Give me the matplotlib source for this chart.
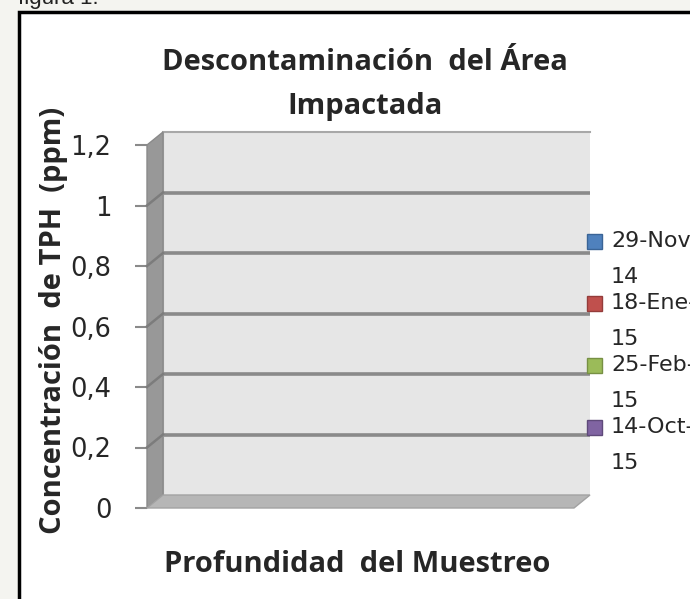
import matplotlib.pyplot as plt
from matplotlib.patches import Polygon, Rectangle
from matplotlib.lines import Line2D

# chart content
title = "Descontaminación  del Área\nImpactada"
x_title = "Profundidad  del Muestreo"
y_title = "Concentración  de TPH  (ppm)"
series = ["29-Nov-\n14", "18-Ene-\n15", "25-Feb-\n15", "14-Oct-\n15"]
colors = ["#4f81bd", "#c0504d", "#9bbb59", "#8064a2"]
edges = ["#3a6496", "#943c3a", "#779044", "#5f4a7a"]
y_ticks = [0, 0.2, 0.4, 0.6, 0.8, 1.0, 1.2]
y_labels = ["0", "0,2", "0,4", "0,6", "0,8", "1", "1,2"]

W, H = 690, 599
fig = plt.figure(figsize=(W / 100, H / 100), dpi=100, facecolor="#f4f4f0")
to_fig = fig.transFigure.inverted()

def fx(px):
    return px / W

def fy(py):
    return 1 - py / H

# white chart area with black frame (cut off at right/bottom)
fig.patches.append(Rectangle((fx(19), fy(640)), 1.2, (640 - 12) / H,
                             transform=fig.transFigure, facecolor="white",
                             edgecolor="black", lw=2.5, zorder=-5))
fig.text(fx(18), fy(4), "figura 1:", fontsize=16, family="Liberation Sans",
         va="baseline", color="#222222")

# back wall
bl, br, bt, bb = 163, 590, 132, 495
ax = fig.add_axes([fx(bl), fy(bb), (br - bl) / W, (bb - bt) / H])
ax.set_xlim(0, 1)
ax.set_ylim(0, 1.2)
ax.set_facecolor("#e6e6e6")
ax.set_yticks(y_ticks[1:-1])
ax.set_xticks([])
ax.tick_params(left=False, labelleft=False)
ax.grid(axis="y", color="#8a8a8a", lw=2.6)
for s in ["right", "bottom"]:
    ax.spines[s].set_visible(False)
ax.spines["top"].set_color("#a8a8a8")
ax.spines["left"].set_color("#a8a8a8")
ax.spines["top"].set_linewidth(1.5)

# front plane (depth offset), carries the value axis
dx, dy = -16, -13
ax2 = fig.add_axes([fx(bl + dx), fy(bb - dy), (br - bl) / W, (bb - bt) / H])
ax2.set_xlim(0, 1)
ax2.set_ylim(0, 1.2)
ax2.patch.set_visible(False)
for s in ax2.spines.values():
    s.set_visible(False)
ax2.set_xticks([])
ax2.set_yticks(y_ticks)
ax2.set_yticklabels(y_labels)
ax2.tick_params(axis="y", length=8.6, width=1.5, color="#8a8a8a",
                pad=17, labelsize=18.5, labelcolor="#262626")


def back(x, y):
    return ax.transData.transform((x, y))


def front(x, y):
    return ax2.transData.transform((x, y))


def fig_poly(pts, **kw):
    p = Polygon(to_fig.transform(pts), closed=True, transform=fig.transFigure, **kw)
    fig.patches.append(p)

# side wall
fig_poly([back(0, 1.2), back(0, 0), front(0, 0), front(0, 1.2)],
         facecolor="#989898", edgecolor="#8a8a8a", lw=1, zorder=1)
# floor
fig_poly([back(0, 0), back(1, 0), front(1, 0), front(0, 0)],
         facecolor="#b6b6b6", edgecolor="#a2a2a2", lw=1, zorder=1)

# gridlines continuing across the side wall
for v in y_ticks[1:-1]:
    pts = to_fig.transform([front(0, v), back(0, v)])
    fig.lines.append(Line2D(pts[:, 0], pts[:, 1], transform=fig.transFigure,
                            color="#7c7c7c", lw=1.8, zorder=2))

# titles
tkw = dict(ha="center", va="center", fontweight="bold", family="Open Sans",
           color="#262626")
fig.text(fx(365), fy(63), title.split("\n")[0], fontsize=21, **tkw)
fig.text(fx(365), fy(107), title.split("\n")[1], fontsize=21, **tkw)
fig.text(fx(357), fy(565), x_title, fontsize=21, **tkw)
fig.text(fx(53), fy(320), y_title, rotation=90, fontsize=21, **tkw)

# legend (wraps and runs off the right edge like the original)
for i, (lab, c, e) in enumerate(zip(series, colors, edges)):
    yc = 241 + i * 62
    fig.patches.append(Rectangle((fx(587), fy(yc + 7.5)), 15 / W, 15 / H,
                                 transform=fig.transFigure, facecolor=c,
                                 edgecolor=e, lw=1, zorder=3))
    l1, l2 = lab.split("\n")
    fig.text(fx(611), fy(yc), l1, va="center", fontsize=16, color="#262626")
    fig.text(fx(611), fy(yc + 36), l2, va="center", fontsize=16, color="#262626")

fig.savefig("out.png", dpi=100, facecolor=fig.get_facecolor())
